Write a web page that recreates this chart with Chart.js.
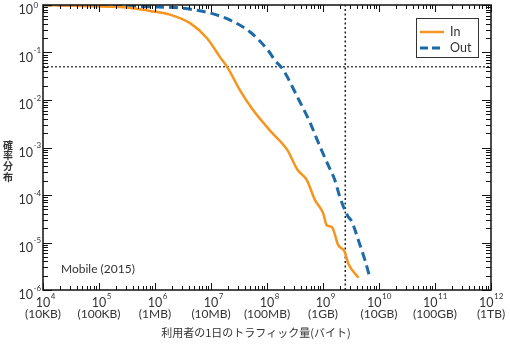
<!DOCTYPE html>
<html>
<head>
<meta charset="utf-8">
<script src="https://cdn.jsdelivr.net/npm/chart.js@4/dist/chart.umd.min.js"></script>
<style>
  html, body { margin: 0; padding: 0; background: #fff; }
  #wrap { width: 510px; height: 344px; }
</style>
</head>
<body>
<div id="wrap"><canvas id="ccdf" width="510" height="344"></canvas></div>
<script>
// Daily traffic per user (bytes) vs. complementary cumulative probability
const inBytes  = [1e4, 1.05e5, 3.2e5, 8.1e5, 1.9e6, 4.3e6, 8.5e6, 1.45e7, 2.0e7, 3.3e7, 5.6e7, 1.12e8, 2.3e8, 3.5e8, 5.1e8, 7.2e8, 1.0e9, 1.17e9, 1.45e9, 1.86e9, 2.45e9, 2.8e9, 4.3e9];
const inProb   = [1.0, 0.93, 0.89, 0.75, 0.62, 0.41, 0.20, 0.080, 0.047, 0.016, 6.2e-3, 2.3e-3, 8.9e-4, 3.4e-4, 2.1e-4, 7.8e-5, 4.2e-5, 2.3e-5, 2.1e-5, 8.9e-6, 6.3e-6, 3.7e-6, 1.8e-6];

const outBytes = [1e4, 1.0e5, 8.1e5, 3.2e6, 9.5e6, 2.2e7, 5.0e7, 1.05e8, 1.38e8, 1.95e8, 3.5e8, 5.9e8, 8.9e8, 1.35e9, 1.62e9, 2.0e9, 2.7e9, 3.3e9, 4.3e9, 5.6e9, 6.9e9];
const outProb  = [1.0, 0.98, 0.92, 0.85, 0.68, 0.48, 0.27, 0.11, 0.069, 0.043, 0.0115, 3.3e-3, 1.02e-3, 3.4e-4, 2.1e-4, 9.1e-5, 3.8e-5, 2.7e-5, 1.1e-5, 4.3e-6, 1.8e-6];

// dotted guide lines
const cutoffBytes = 2.5e9;
const cutoffProb = 0.05;

// axis labels
const xExps  = [4, 5, 6, 7, 8, 9, 10, 11, 12];
const xUnits = ['(10KB)', '(100KB)', '(1MB)', '(10MB)', '(100MB)', '(1GB)', '(10GB)', '(100GB)', '(1TB)'];
const yExps  = [0, -1, -2, -3, -4, -5, -6];

const ORANGE = '#f7941d';
const BLUE = '#1c6aa6';
const INK = '#333';
const LATIN = 'Lato, "Noto Sans", sans-serif';
const CJK = '"Noto Sans CJK JP", sans-serif';

const toPoints = (xs, ys) => xs.map((x, i) => ({ x: x, y: ys[i] }));

// frame, inside ticks, power-of-ten labels, titles and legend
const decorPlugin = {
    id: 'decor',
    afterDraw(chart) {
        const ctx = chart.ctx;
        const xs = chart.scales.x, ys = chart.scales.y;
        const { left, right, top, bottom } = chart.chartArea;
        ctx.save();

        // ticks on all four sides
        ctx.strokeStyle = '#111';
        ctx.lineWidth = 1;
        ctx.beginPath();
        for (let e = 4; e <= 12; e++) {
            for (let m = 1; m <= 9; m++) {
                if (e === 12 && m > 1) break;
                const px = Math.round(xs.getPixelForValue(m * Math.pow(10, e))) + 0.5;
                const len = m === 1 ? 7 : 4;
                ctx.moveTo(px, bottom); ctx.lineTo(px, bottom - len);
                ctx.moveTo(px, top); ctx.lineTo(px, top + len);
            }
        }
        for (let e = -6; e <= 0; e++) {
            for (let m = 1; m <= 9; m++) {
                if (e === 0 && m > 1) break;
                const py = Math.round(ys.getPixelForValue(m * Math.pow(10, e))) + 0.5;
                const len = m === 1 ? 9 : 5;
                ctx.moveTo(left, py); ctx.lineTo(left + len, py);
                ctx.moveTo(right, py); ctx.lineTo(right - len, py);
            }
        }
        ctx.stroke();

        // frame
        ctx.lineWidth = 1.5;
        ctx.strokeStyle = '#111';
        ctx.strokeRect(left, top, right - left, bottom - top);

        ctx.fillStyle = INK;
        ctx.textBaseline = 'middle';

        // y tick labels
        yExps.forEach(e => {
            const py = ys.getPixelForValue(Math.pow(10, e));
            ctx.font = '12.5px ' + LATIN;
            ctx.textAlign = 'right';
            ctx.fillText('10', 33, py + 5);
            ctx.font = '8px ' + LATIN;
            ctx.textAlign = 'left';
            ctx.fillText(String(e), 33.5, Math.max(py - 2, 5));
        });

        // x tick labels
        xExps.forEach((e, i) => {
            const px = xs.getPixelForValue(Math.pow(10, e));
            ctx.font = '12.5px ' + LATIN;
            const baseW = ctx.measureText('10').width;
            ctx.font = '8px ' + LATIN;
            const supW = ctx.measureText(String(e)).width;
            const start = String(e).length > 1 ? px - (baseW + supW) / 2 : px - baseW / 2;
            ctx.textAlign = 'left';
            ctx.font = '12.5px ' + LATIN;
            ctx.fillText('10', start, 303);
            ctx.font = '8px ' + LATIN;
            ctx.fillText(String(e), start + baseW + 0.5, 296);
            ctx.font = '12px ' + LATIN;
            ctx.textAlign = 'center';
            ctx.fillText(xUnits[i], px, 314);
        });

        // axis titles
        ctx.font = '11px ' + CJK;
        ctx.textAlign = 'center';
        ctx.fillText('利用者の1日のトラフィック量(バイト)', 256, 333);
        ctx.font = 'bold 10px ' + CJK;
        ['確', '率', '分', '布'].forEach((ch, i) => ctx.fillText(ch, 8, 145 + i * 10.7));

        ctx.font = '12px ' + LATIN;
        ctx.textAlign = 'left';
        ctx.fillText('Mobile (2015)', 61, 269);

        // legend
        ctx.lineWidth = 1;
        ctx.strokeStyle = '#333';
        ctx.strokeRect(416.5, 18.5, 62, 39);
        ctx.lineWidth = 2.5;
        ctx.strokeStyle = ORANGE;
        ctx.beginPath(); ctx.moveTo(420, 32); ctx.lineTo(444, 32); ctx.stroke();
        ctx.lineWidth = 3;
        ctx.strokeStyle = BLUE;
        ctx.setLineDash([8, 4]);
        ctx.beginPath(); ctx.moveTo(420, 48); ctx.lineTo(444, 48); ctx.stroke();
        ctx.setLineDash([]);
        ctx.fillStyle = INK;
        ctx.font = '12.5px ' + LATIN;
        ctx.fillText('In', 450, 32);
        ctx.fillText('Out', 450, 48);

        ctx.restore();
    }
};

new Chart(document.getElementById('ccdf').getContext('2d'), {
    type: 'line',
    data: {
        datasets: [
            {
                label: 'In',
                data: toPoints(inBytes, inProb),
                borderColor: ORANGE,
                borderWidth: 2.5,
                pointRadius: 0,
                cubicInterpolationMode: 'monotone',
                order: 0
            },
            {
                label: 'Out',
                data: toPoints(outBytes, outProb),
                borderColor: BLUE,
                borderWidth: 3,
                borderDash: [9, 5],
                pointRadius: 0,
                cubicInterpolationMode: 'monotone',
                order: 0
            },
            {
                label: 'prob',
                data: [{ x: 1e4, y: cutoffProb }, { x: 1e12, y: cutoffProb }],
                borderColor: '#222',
                borderWidth: 1.2,
                borderDash: [2, 2],
                pointRadius: 0,
                order: 1
            },
            {
                label: 'bytes',
                data: [{ x: cutoffBytes, y: 1e-6 }, { x: cutoffBytes, y: 1 }],
                borderColor: '#222',
                borderWidth: 1.5,
                borderDash: [2, 2.5],
                pointRadius: 0,
                order: 1
            }
        ]
    },
    options: {
        responsive: false,
        animation: false,
        devicePixelRatio: 1,
        layout: { padding: { left: 43, right: 19, top: 5, bottom: 54 } },
        plugins: {
            legend: { display: false },
            tooltip: { enabled: false }
        },
        scales: {
            x: { type: 'logarithmic', min: 1e4, max: 1e12, display: false },
            y: { type: 'logarithmic', min: 1e-6, max: 1, display: false }
        }
    },
    plugins: [decorPlugin]
});
</script>
</body>
</html>
